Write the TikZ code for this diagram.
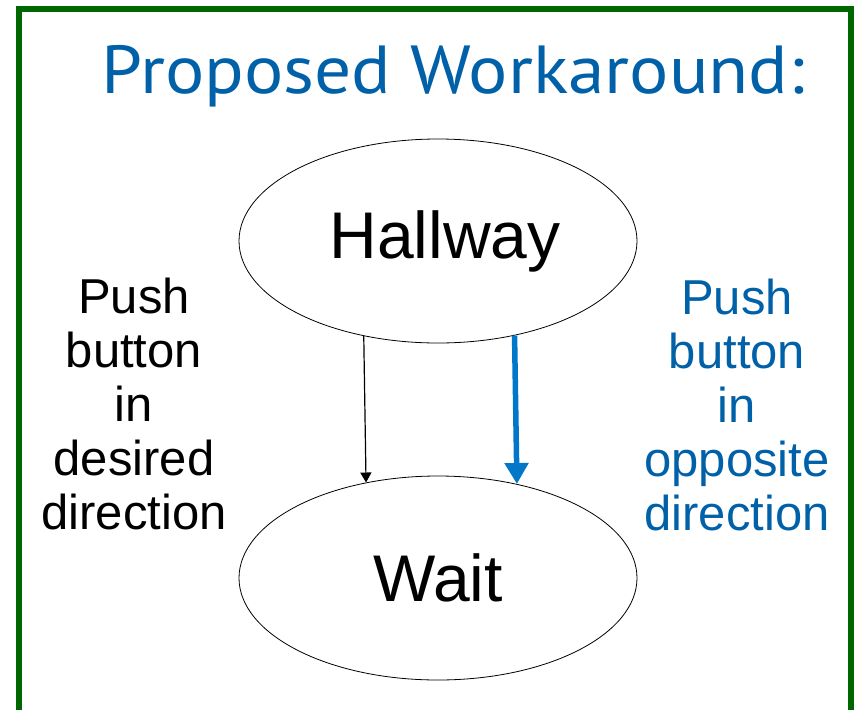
\documentclass[tikz,border=0pt]{standalone}
\usepackage{fontspec}
\setmainfont{Liberation Sans}
\newfontfamily\titlefont{PT Sans}
\usetikzlibrary{shapes.geometric, arrows.meta}
\definecolor{framegreen}{RGB}{0,102,0}
\definecolor{titleblue}{RGB}{0,96,168}
\definecolor{arrowblue}{RGB}{0,119,200}

\begin{document}
\begin{tikzpicture}[x=1pt, y=-1pt,
	state/.style={shape=ellipse, draw, line width=0.8pt, minimum width=398pt, minimum height=204pt, inner sep=0pt, font=\fontsize{66}{70}\selectfont},
	pushlabel/.style={align=center, inner sep=0pt, font=\fontsize{49}{54}\selectfont}]
	\useasboundingbox (0, 0) rectangle (854, 710);
	% Frame and title:
	\draw[framegreen, line width=6pt] (19, 710) -- (19, 9) -- (851, 9) -- (851, 710);
	\node[titleblue, anchor=base, inner sep=0pt, font=\titlefont\fontsize{68}{70}\selectfont] (title) at (453, 93){\scalebox{1.08}[1]{Proposed Workaround:}};
	% States:
	\node[state] (hall) at (438, 241){\hspace{14pt}Hallway};
	\node[state] (wait) at (438, 578){Wait};
	% Transitions and their labels:
	\draw[line width=1.2pt, -{Triangle[length=10pt, width=11pt]}] (hall.232.84) -- (wait.127.16);
	\draw[arrowblue, line width=5.5pt, -{Triangle[length=21pt, width=23pt]}] (hall.309.33) -- (wait.50.67);
	\node[pushlabel] (desired) at (134, 404){Push\\button\\in\\desired\\direction};
	\node[pushlabel, titleblue] (opposite) at (737, 405){Push\\button\\in\\opposite\\direction};
\end{tikzpicture}
\end{document}
